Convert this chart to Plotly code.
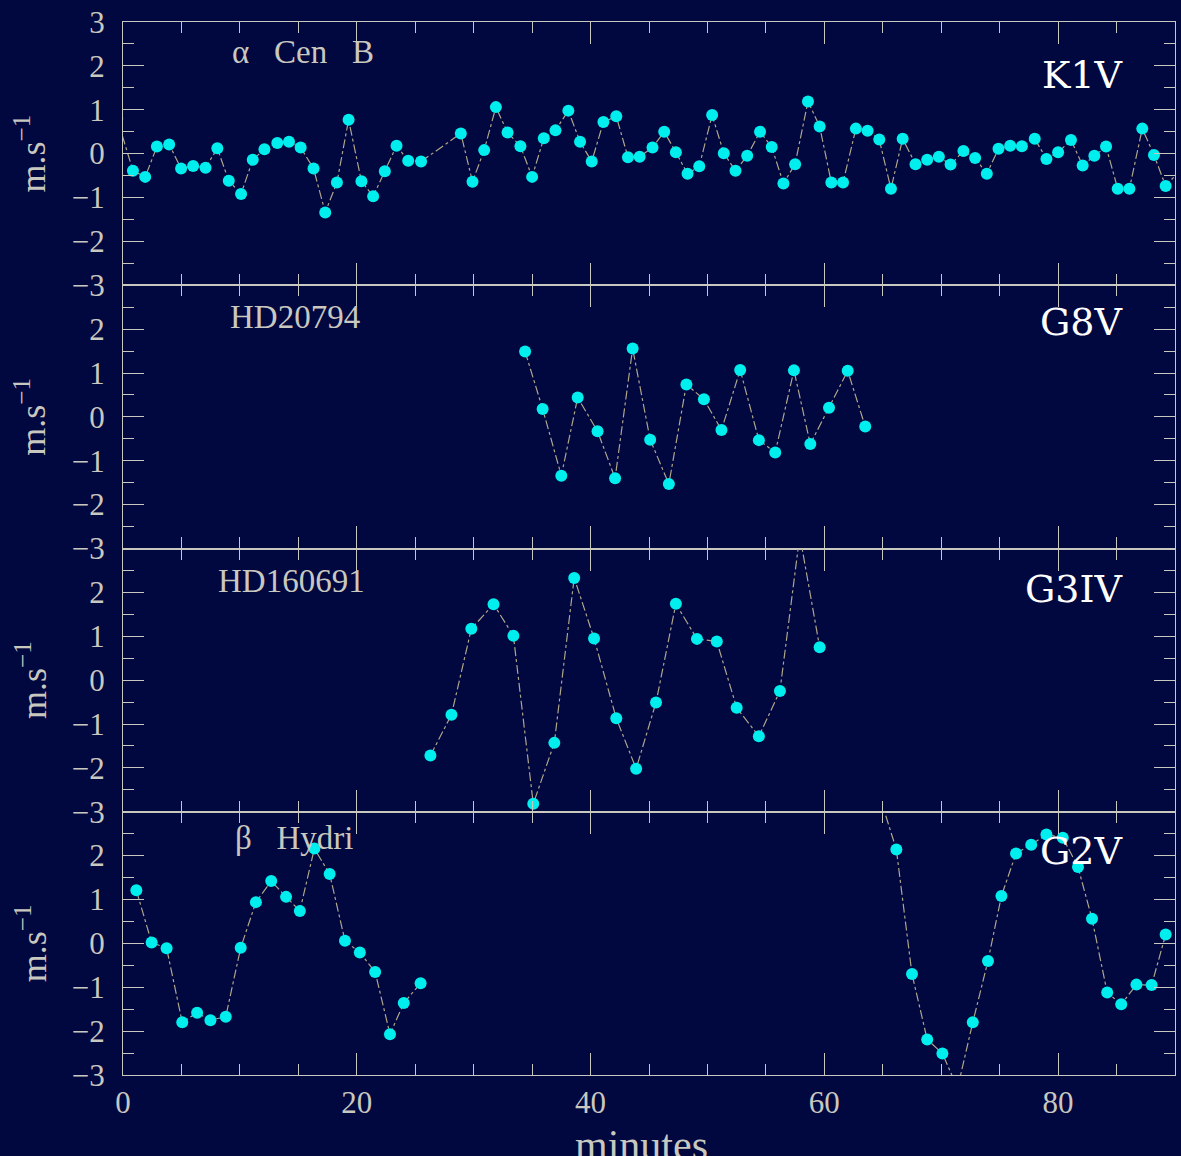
import plotly.graph_objects as go
from plotly.subplots import make_subplots

# ---------------- data (minutes, m/s) ----------------
cenB_t = [-0.5, 0.85, 1.9, 2.9, 3.95, 4.97, 6.0, 7.06, 8.07, 9.05, 10.1, 11.1, 12.1, 13.2, 14.2,
          15.2, 16.3, 17.3, 18.3, 19.3, 20.4, 21.4, 22.4, 23.4, 24.4, 25.5, 28.9, 29.9, 30.9,
          31.9, 32.9, 34.0, 35.0, 36.0, 37.0, 38.1, 39.1, 40.1, 41.1, 42.2, 43.2, 44.2, 45.3,
          46.3, 47.3, 48.3, 49.3, 50.4, 51.4, 52.4, 53.4, 54.5, 55.5, 56.5, 57.5, 58.6, 59.6,
          60.6, 61.6, 62.7, 63.7, 64.7, 65.7, 66.7, 67.8, 68.8, 69.8, 70.8, 71.9, 72.9, 73.9,
          74.9, 75.9, 76.9, 78.0, 79.0, 80.0, 81.1, 82.1, 83.1, 84.1, 85.1, 86.1, 87.2, 88.2,
          89.2, 90.7]
cenB_v = [0.8, -0.39, -0.53, 0.16, 0.21, -0.34, -0.28, -0.32, 0.12, -0.62, -0.92, -0.14, 0.10,
          0.24, 0.27, 0.14, -0.34, -1.34, -0.66, 0.77, -0.63, -0.97, -0.40, 0.18, -0.16, -0.18,
          0.46, -0.64, 0.08, 1.06, 0.48, 0.17, -0.53, 0.35, 0.53, 0.98, 0.27, -0.18, 0.72, 0.85,
          -0.08, -0.07, 0.14, 0.50, 0.03, -0.46, -0.29, 0.88, 0.01, -0.39, -0.05, 0.50, 0.15,
          -0.68, -0.24, 1.19, 0.62, -0.66, -0.66, 0.57, 0.52, 0.32, -0.80, 0.34, -0.24, -0.14,
          -0.07, -0.25, 0.06, -0.10, -0.46, 0.11, 0.18, 0.17, 0.34, -0.12, 0.03, 0.31, -0.27,
          -0.05, 0.16, -0.80, -0.80, 0.57, -0.03, -0.74, -0.30]

hd20794_t = [34.4, 35.9, 37.5, 38.9, 40.6, 42.1, 43.6, 45.1, 46.7, 48.2, 49.7, 51.2, 52.8,
             54.4, 55.8, 57.4, 58.8, 60.4, 62.0, 63.5]
hd20794_v = [1.49, 0.18, -1.34, 0.44, -0.33, -1.40, 1.56, -0.52, -1.53, 0.74, 0.40, -0.30,
             1.07, -0.53, -0.81, 1.06, -0.62, 0.21, 1.05, -0.22]

hd160691_t = [26.3, 28.1, 29.8, 31.7, 33.4, 35.1, 36.9, 38.6, 40.3, 42.2, 43.9, 45.6, 47.3,
              49.1, 50.8, 52.5, 54.4, 56.2, 57.9, 59.6]
hd160691_v = [-1.72, -0.79, 1.17, 1.73, 1.01, -2.82, -1.43, 2.33, 0.95, -0.87, -2.02, -0.51,
              1.74, 0.94, 0.88, -0.63, -1.28, -0.25, 3.3, 0.75]

bhyi_t = [1.14, 2.45, 3.73, 5.07, 6.34, 7.48, 8.79, 10.07, 11.37, 12.68, 13.95, 15.13, 16.37,
          17.68, 18.99, 20.26, 21.57, 22.84, 24.02, 25.46, None, 64.8, 66.16, 67.5, 68.8, 70.1,
          71.4, 72.7, 74.0, 75.15, 76.4, 77.7, 79.0, 80.4, 81.7, 82.9, 84.2, 85.4, 86.7, 88.0,
          89.2]
bhyi_v = [1.21, 0.02, -0.11, -1.80, -1.58, -1.75, -1.67, -0.10, 0.94, 1.42, 1.06, 0.74, 2.16,
          1.58, 0.06, -0.21, -0.65, -2.07, -1.36, -0.91, None, 3.3, 2.14, -0.70, -2.19, -2.51,
          -3.3, -1.80, -0.40, 1.08, 2.05, 2.25, 2.48, 2.41, 1.74, 0.56, -1.12, -1.39, -0.94,
          -0.95, 0.20]

star_names = ["\u03b1\u00a0\u00a0\u00a0Cen\u00a0\u00a0\u00a0B", "HD20794", "HD160691",
              "\u03b2\u00a0\u00a0\u00a0Hydri"]
spectral_types = ["K1V", "G8V", "G3IV", "G2V"]
series = [(cenB_t, cenB_v), (hd20794_t, hd20794_v), (hd160691_t, hd160691_v), (bhyi_t, bhyi_v)]

x_tickvals = [0, 20, 40, 60, 80]
y_tickvals_top = [-3, -2, -1, 0, 1, 2, 3]
y_tickvals = [-3, -2, -1, 0, 1, 2]

def fmt(v):
    return ("\u2212" + str(abs(v))) if v < 0 else str(v)

# ---------------- styling ----------------
BG = "#01073f"
FG = "#c9c8bf"
LINE_C = "#b0a68c"
DOT_C = "#00eeee"
SERIF = "Liberation Serif, DejaVu Serif, serif"

fig = make_subplots(rows=4, cols=1, shared_xaxes=True, vertical_spacing=0)

for i, (t, v) in enumerate(series, start=1):
    fig.add_trace(go.Scatter(
        x=t, y=v, mode="lines+markers", connectgaps=False,
        line=dict(color=LINE_C, width=1.2, dash="dashdot"),
        marker=dict(color=DOT_C, size=12, line=dict(width=0)),
        showlegend=False, hoverinfo="skip"), row=i, col=1)

for i in range(1, 5):
    fig.update_xaxes(
        range=[0, 90], tickvals=x_tickvals, ticktext=[str(v) for v in x_tickvals],
        ticks="inside", ticklen=22, tickwidth=1.3, tickcolor=FG,
        minor=dict(ticks="inside", ticklen=11, tickwidth=1.3, tickcolor=FG, dtick=5, tick0=0,
                   showgrid=False),
        showline=True, linecolor=FG, linewidth=1.2, mirror="allticks",
        showgrid=False, zeroline=False, showticklabels=(i == 4),
        tickfont=dict(family=SERIF, size=31, color=FG), ticklabelstandoff=0,
        row=i, col=1)
    tv = y_tickvals_top if i == 1 else y_tickvals
    fig.update_yaxes(
        range=[-3, 3], tickvals=tv, ticktext=[fmt(v) for v in tv],
        ticks="inside", ticklen=21, tickwidth=1.3, tickcolor=FG,
        minor=dict(ticks="inside", ticklen=11, tickwidth=1.3, tickcolor=FG, dtick=0.5,
                   tick0=0, showgrid=False),
        showline=True, linecolor=FG, linewidth=1.2, mirror="allticks",
        showgrid=False, zeroline=False,
        tickfont=dict(family=SERIF, size=31, color=FG), ticklabelstandoff=11,
        row=i, col=1)

# annotations: star names, spectral types, y titles
name_pos = [(0.102, 0.886), (0.0998, 0.878), (0.0884, 0.875), (0.1046, 0.901)]
type_pos = [0.798, 0.859, 0.848, 0.852]
for i in range(4):
    xr = "x" if i == 0 else f"x{i+1}"
    yr = "y" if i == 0 else f"y{i+1}"
    fig.add_annotation(text=star_names[i], xref=xr + " domain", yref=yr + " domain",
                       x=name_pos[i][0], y=name_pos[i][1], xanchor="left", yanchor="middle",
                       showarrow=False, font=dict(family=SERIF, size=33, color=FG))
    fig.add_annotation(text=spectral_types[i], xref=xr + " domain", yref=yr + " domain",
                       x=0.9525, y=type_pos[i], xanchor="right", yanchor="middle",
                       showarrow=False,
                       font=dict(family="DejaVu Serif, serif", size=38, color="#ffffff"))
    fig.add_annotation(text="m.s<sup>\u22121</sup>", xref="paper", yref=yr + " domain",
                       x=-0.0875, y=0.5, xanchor="center", yanchor="middle", textangle=-90,
                       showarrow=False, font=dict(family=SERIF, size=36, color=FG))

fig.add_annotation(text="minutes", xref="paper", yref="paper", x=0.4924, y=-0.0665,
                   xanchor="center", yanchor="middle", showarrow=False,
                   font=dict(family=SERIF, size=42, color=FG))

fig.update_layout(
    width=1181, height=1156,
    margin=dict(l=123, r=6, t=22, b=81),
    paper_bgcolor=BG, plot_bgcolor=BG,
)

fig.write_html(
    "out.html",
    config={"displayModeBar": False},
    post_script="document.body.style.margin='0';document.body.style.background='%s';" % BG,
)
